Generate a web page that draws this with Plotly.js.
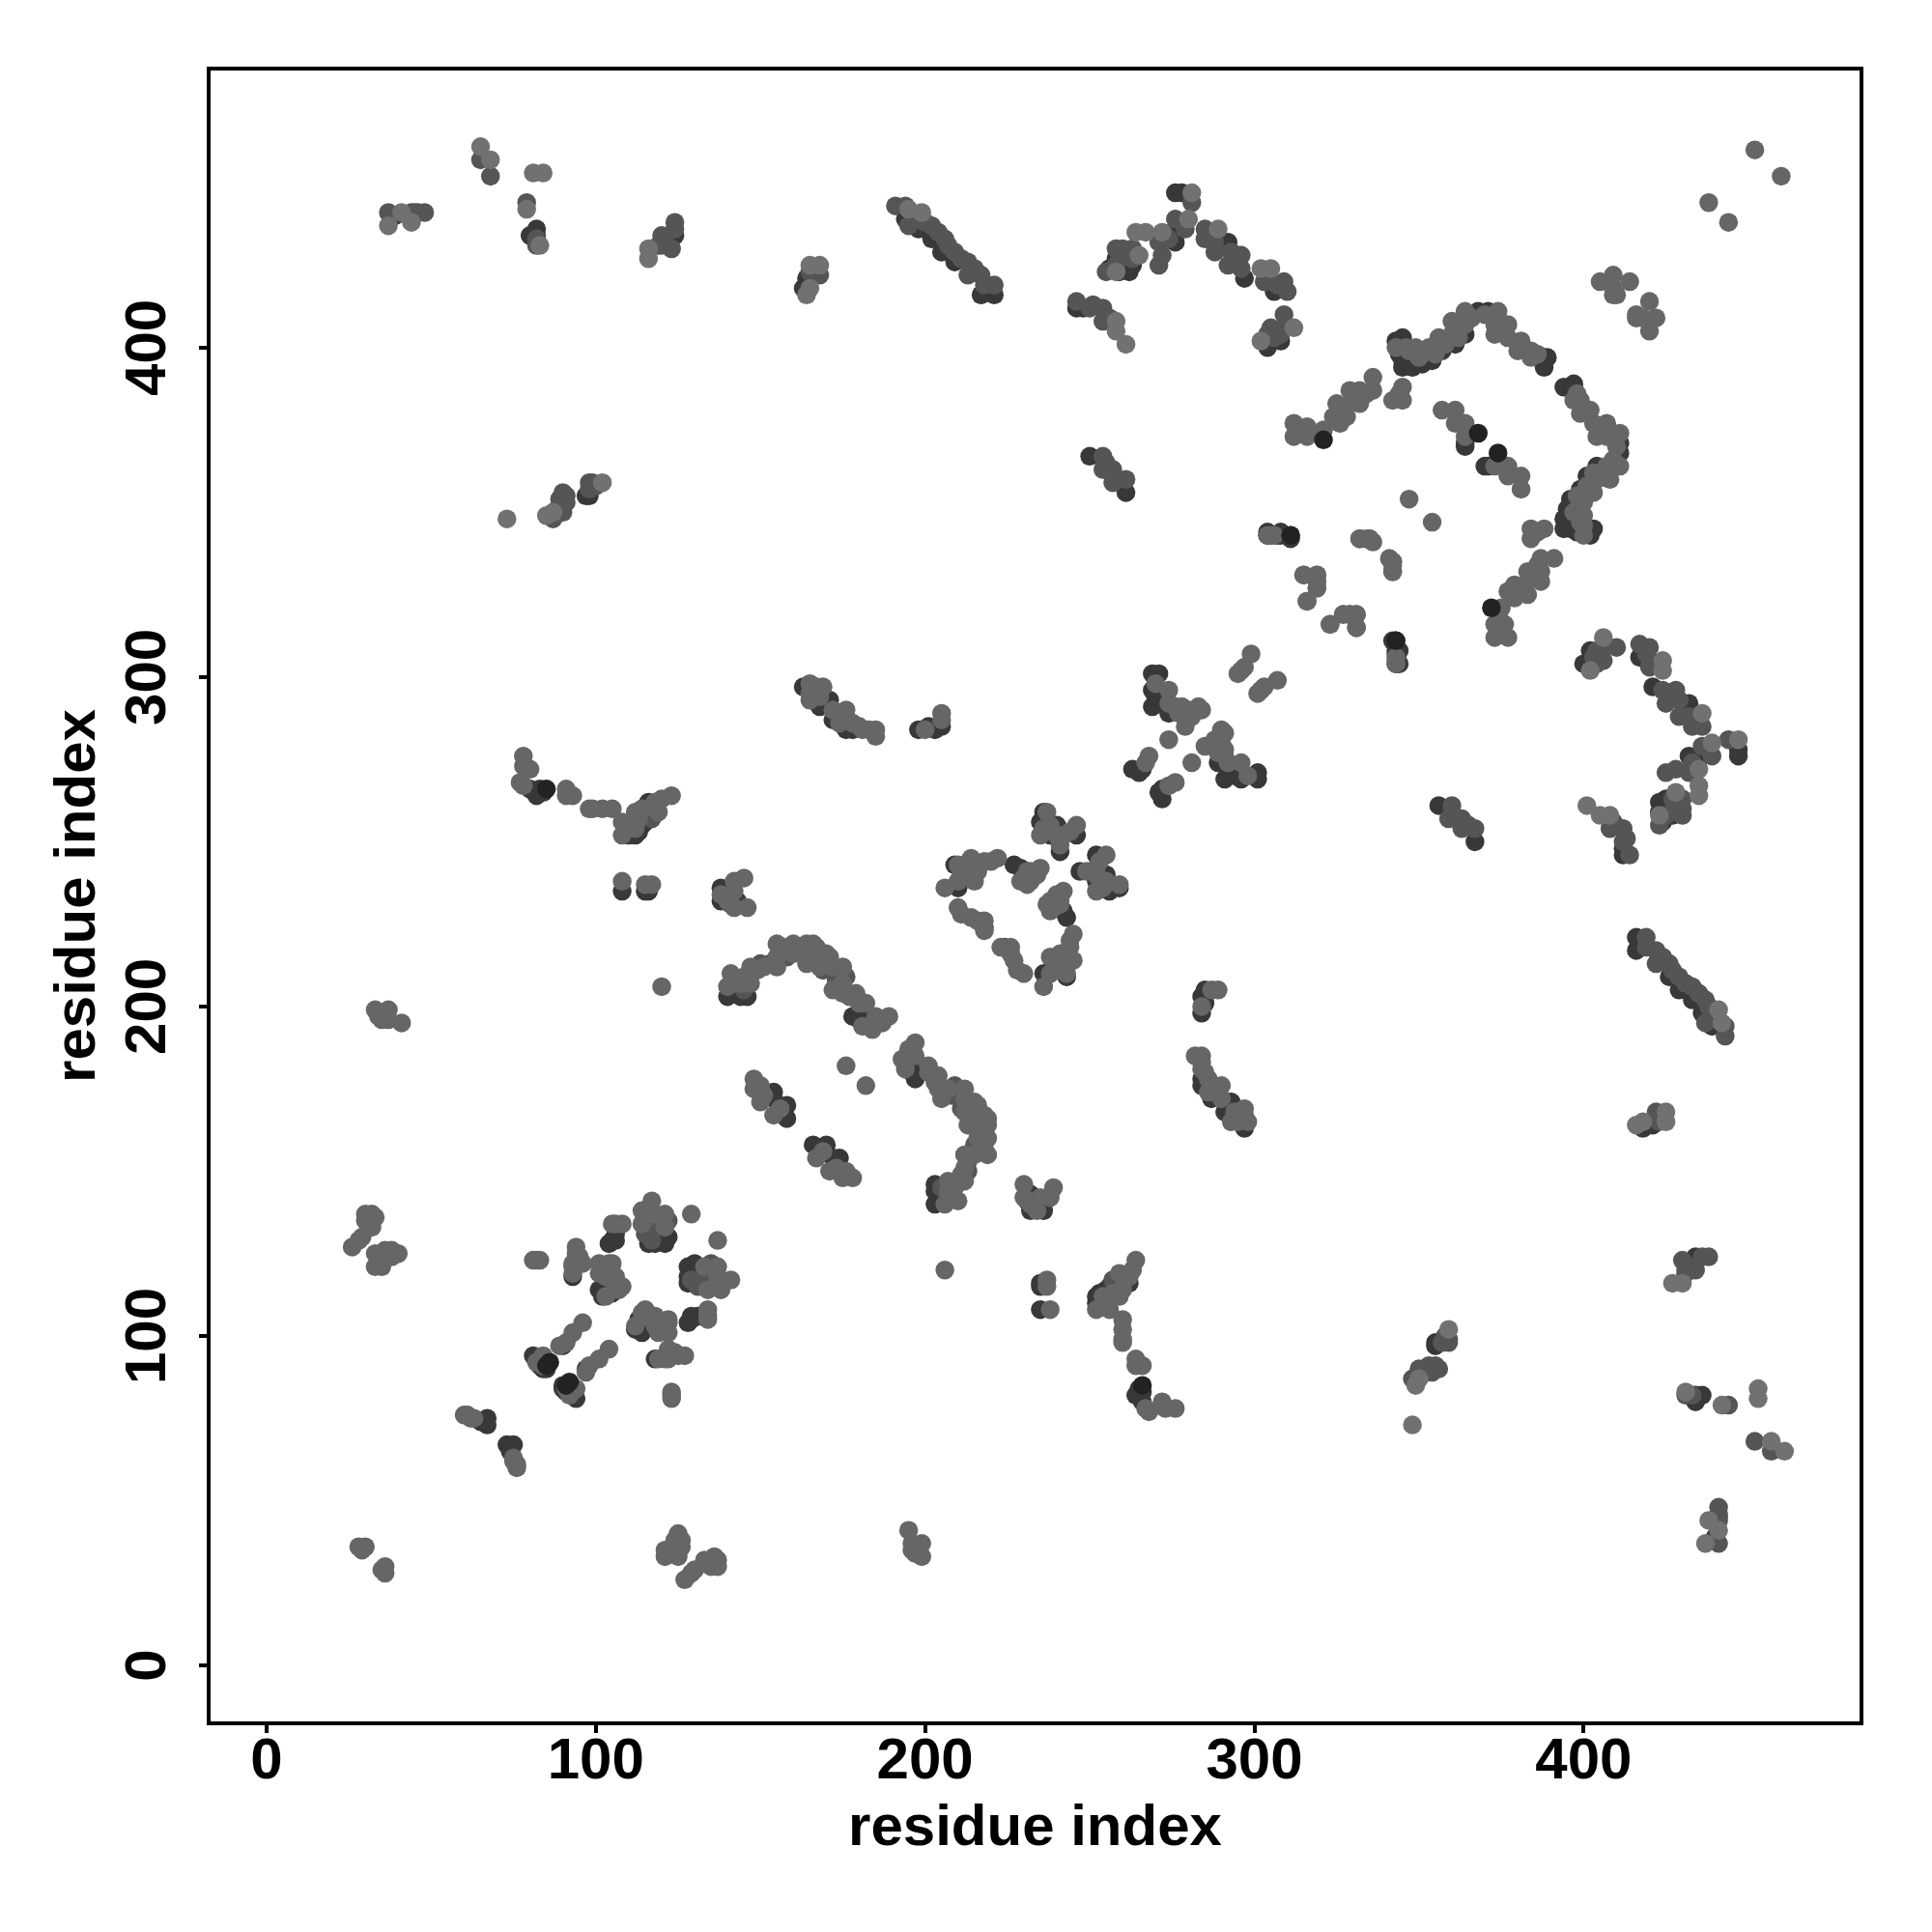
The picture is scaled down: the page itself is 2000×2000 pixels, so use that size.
<!DOCTYPE html>
<html>
<head>
<meta charset="utf-8">
<script src="https://cdn.plot.ly/plotly-3.0.1.min.js"></script>
<style>html,body{margin:0;padding:0;background:#fff}</style>
</head>
<body>
<div id="chart" style="width:2000px;height:2000px"></div>
<script>
const tickValues = [0, 100, 200, 300, 400];
const axisTitle = "residue index";

// residue contacts [i, j] with i < j; the map shows each contact at (i,j) and (j,i)
const darkContacts = [
[39,440],[80,434],[82,434],[82,436],[124,434],[122,433],[163,418],[164,421],[98,355],[97,355],[194,439],[198,436],[202,433],[205,429],[209,426],[217,416],[221,416],[246,412],[248,412],[276,447],[278,447],[260,425],[258,427],[262,423],[262,426],[261,426],[262,428],[276,432],[275,435],[297,421],[292,432],[306,417],[305,420],[304,400],[305,402],[308,402],[250,367],[261,356],[304,343],[307,343],[308,343],[311,342],
[345,394],[345,396],[347,396],[344,398],[343,402],[345,403],[348,394],[351,395],[354,396],[352,398],[357,399],[361,401],[364,404],[368,411],[371,411],[372,410],[388,394],[389,397],[388,397],[364,371],[364,370],[343,311],[344,308],[344,304],
[82,264],[80,266],[83,266],[84,265],[110,252],[112,252],[114,255],[115,256],[116,262],[115,259],[108,235],[115,235],[116,235],[138,236],[138,232],[143,232],[141,231],[140,203],[144,203],[141,207],[172,287],[176,284],[178,284],[168,291],[171,293],[163,297],
[236,259],[235,256],[238,252],[240,255],[246,252],[241,247],[209,243],[227,243],[229,242],[210,236],[218,224],[205,285],[203,284],[201,285],[198,284],[269,301],[271,301],[269,296],[270,294],[269,291],[272,293],[274,289],[263,272],[265,271],[266,272],[180,196],[178,197],[181,199],[154,174],[154,172],[158,166],[158,170],
[117,133],[116,128],[118,128],[121,128],[106,131],[106,129],[105,129],[104,128],[93,118],[101,114],[102,112],[104,114],[105,113],[90,97],[81,94],[82,93],[84,90],[83,91],[85,90],[67,75],[67,73],[65,74],
[256,424],[259,423],[260,428],[263,425],[111,254],[113,253],[116,258],[118,130],[120,130],[122,130],[147,210],[143,205],[146,203]
];
const midContacts = [
[37,441],[44,441],[45,441],[46,441],[48,441],[65,457],[68,452],[79,444],[82,433],[82,431],[124,438],[124,436],[123,430],[120,434],[120,431],[121,432],[119,431],[168,422],[165,423],[166,423],[167,424],[88,350],[90,350],[89,352],[89,354],[91,355],[91,353],[90,356],[87,348],[98,359],[99,359],[98,357],[100,358],
[191,443],[194,443],[195,437],[198,439],[200,438],[202,437],[204,435],[206,433],[207,431],[209,429],[211,427],[213,426],[213,422],[215,424],[217,422],[218,419],[221,419],
[246,414],[250,412],[251,413],[254,412],[254,408],[256,409],[255,423],[258,430],[263,430],[271,425],[272,428],[271,432],[274,433],[276,439],[279,436],[281,444],[285,436],[285,433],[287,435],[288,429],[288,432],[293,429],[292,425],[295,426],[296,428],[296,424],[303,420],[307,419],[309,420],[310,417],[309,410],[309,406],[305,406],[308,404],[306,403],[304,404],
[254,367],[254,363],[255,365],[257,363],[257,359],[261,360],[305,343],
[258,425],[260,430],[263,427],[117,257],[110,255],[120,135],[122,135],[119,134],[117,129],[117,135],[115,131],[156,216],[158,215],[153,213],[150,213],[145,205],[169,211],[173,208],[176,209]
];
const lightContacts = [
[41,441],[37,437],[44,438],[65,461],[68,457],[81,453],[84,453],[79,442],[83,431],[116,430],[116,427],[165,425],[168,425],[165,418],[164,416],[73,348],[85,349],[87,350],[102,359],[195,442],[199,441],[258,405],[261,401],[258,408],[264,435],[267,435],[265,428],[258,423],[272,435],[280,439],[281,447],[289,436],[302,424],[305,424],[312,406],[302,402]
];
const paleContacts = [
[312,377],[312,373],[316,376],[316,373],[321,375],[324,379],[326,377],[328,379],[325,383],[328,382],[330,384],[332,383],[329,387],[332,387],[334,386],[336,387],[336,391],[342,384],[345,384],[345,388],[344,386],
[343,400],[346,400],[347,399],[349,400],[350,397],[353,400],[355,398],[356,403],[358,401],[360,408],[360,404],[362,403],[364,407],[364,411],[366,409],[370,410],[374,411],[373,407],[373,404],[377,407],[377,403],[381,402],[380,399],[384,399],[384,397],[386,398],
[357,381],[361,381],[361,377],[364,377],[364,373],[347,354],[332,342],[335,342],[336,341],[334,342],[342,335],[315,331],[319,331],[319,327],[316,323],[319,329],[327,319],[329,319],[331,319],[331,315],[323,316],[342,332],[343,306],[343,304],
[409,422],[405,420],[414,420],[409,416],[410,416],[409,418],[438,444],[452,460],
[78,276],[78,273],[80,272],[77,268],[78,267],[91,266],[91,264],[93,264],[98,260],[99,260],[102,260],[105,260],[108,256],[108,252],[112,254],[113,257],[112,259],[118,260],[118,262],[119,259],[120,263],[123,264],[114,260],[108,238],[115,237],[117,237],[142,238],[145,239],[138,234],[140,232],[142,235],[142,230],[146,230],
[141,210],[140,206],[143,208],[144,207],[147,207],[147,212],[145,209],[149,211],[151,212],[155,212],[155,215],[155,219],[157,218],[160,219],[162,218],[164,219],[165,217],[167,218],[164,213],[166,215],[168,215],[168,212],[170,214],[171,215],[172,212],[175,212],[172,205],[175,207],[175,204],[177,203],[179,204],[180,201],[182,201],[181,194],[184,193],[185,197],[187,195],[189,197],[120,206],
[165,298],[165,295],[165,293],[167,297],[169,297],[168,294],[172,290],[174,286],[176,290],[178,286],[180,285],[181,284],[183,284],[185,284],[185,282],
[235,252],[236,254],[237,259],[238,255],[240,252],[242,252],[244,253],[246,255],[241,249],[206,236],[210,238],[211,241],[210,243],[213,240],[215,238],[214,243],[216,241],[218,244],[214,245],[220,244],[222,245],[231,241],[232,241],[235,242],[234,240],[232,238],[229,238],[230,239],[231,237],[210,230],[211,228],[214,227],[216,226],[218,226],[218,223],
[205,289],[205,287],[200,284],[270,298],[274,296],[274,292],[276,291],[278,291],[277,289],[279,288],[280,290],[281,288],[279,285],[283,291],[284,290],[299,307],[297,303],[295,301],[296,302],[274,281],[268,276],[267,274],
[148,178],[148,175],[150,176],[151,173],[150,171],[154,167],[156,169],[176,182],
[117,141],[114,138],[114,134],[118,137],[121,137],[121,133],[129,137],[105,134],[106,134],[108,134],[82,123],[81,123],[83,123],[94,127],[94,125],[95,124],[93,122],[93,119],[93,121],[96,122],[101,122],[104,122],[105,122],[101,119],[103,118],[105,117],[106,118],[106,116],[107,114],[108,115],[103,112],
[96,104],[93,101],[91,98],[89,97],[84,94],[82,92],[84,91],[60,76],[61,76],[62,75],[63,75],
[33,199],[34,197],[35,196],[37,199],[37,196],[41,195],[26,127],[29,130],[30,135],[33,136],[31,133],[33,121],[33,125],[36,124],[40,125],[38,124],[28,36],[30,36],[29,35],
[38,126],[36,126],[32,137],[30,137],[32,133],[28,129],[34,123],[35,121],[35,125],
[170,216],[166,219],[163,217],[160,216]
];
const blackContacts = [[85,266],[311,343],[321,372],[368,374],[86,92],[91,85]];

function contactTrace(pairs, color) {
  const is = pairs.map(p => p[0]);
  const js = pairs.map(p => p[1]);
  return {
    type: "scatter", mode: "markers",
    x: is.concat(js), y: js.concat(is),
    marker: {size: 19.5, color: color, line: {width: 0}},
    hoverinfo: "x+y", showlegend: false
  };
}
const data = [
  contactTrace(darkContacts, "#383838"),
  contactTrace(midContacts, "#555555"),
  contactTrace(paleContacts, "#666666"),
  contactTrace(lightContacts, "#717171"),
  contactTrace(blackContacts, "#222222")
];
const fontFamily = "Liberation Sans, Arial, sans-serif";
const tickFont = {family: fontFamily, size: 60, color: "#000", weight: 700};
const titleFont = {family: fontFamily, size: 60, color: "#000"};
const axisCommon = {
  tickmode: "array", tickvals: tickValues, ticktext: tickValues.map(String),
  ticks: "outside", ticklen: 8, tickwidth: 4, tickcolor: "#000",
  showgrid: false, zeroline: false, showline: true, linecolor: "#000", linewidth: 4, mirror: true,
  tickfont: tickFont
};
const layout = {
  width: 2000, height: 2000,
  margin: {l: 218, r: 75, t: 73.4, b: 218.3},
  paper_bgcolor: "#fff", plot_bgcolor: "#fff",
  showlegend: false,
  xaxis: Object.assign({}, axisCommon, {range: [-17.0, 483.8], ticklabelstandoff: -25,
    title: {text: "<b>" + axisTitle + "</b>", font: titleFont, standoff: 16}}),
  yaxis: Object.assign({}, axisCommon, {range: [-17.0, 484.1], tickangle: -90, ticklabelstandoff: 11, ticklabelshift: 9,
    title: {text: "<b>" + axisTitle + "</b>", font: titleFont, standoff: 0}})
};
Plotly.newPlot("chart", data, layout, {displayModeBar: false, staticPlot: true});
</script>
</body>
</html>
